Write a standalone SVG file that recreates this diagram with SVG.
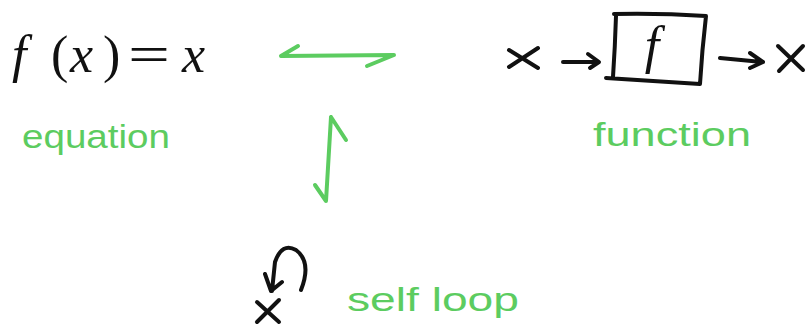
<svg xmlns="http://www.w3.org/2000/svg" width="811" height="329" viewBox="0 0 811 329">
<style>
.g{fill:none;stroke:#5ccc60;stroke-width:4;stroke-linecap:round;stroke-linejoin:round}
.k{fill:none;stroke:#111;stroke-width:4;stroke-linecap:round;stroke-linejoin:round}
.hand{font-family:"Liberation Sans",Arial,sans-serif;fill:#5ccc60;font-size:33px}
.math{font-family:"Liberation Serif","Times New Roman",serif;fill:#111;font-size:52px}
</style>
<rect width="811" height="329" fill="#fff"/>
<g id="equation">
<text class="math" x="12" y="72" font-style="italic">f</text>
<text class="math" x="51" y="72">(</text>
<text class="math" x="70" y="72" font-style="italic">x</text>
<text class="math" x="103" y="72">)</text>
<text class="math" x="128" y="72" textLength="42" lengthAdjust="spacingAndGlyphs">=</text>
<text class="math" x="182" y="72" font-style="italic">x</text>
<text class="hand" x="22" y="148" textLength="148" lengthAdjust="spacingAndGlyphs">equation</text>
</g>
<g id="function">
<path class="k" d="M509 50 L538 68 M538 48 L509 67"/>
<path class="k" d="M563 62 L598 62 M588 54 L599 62 L590 68"/>
<path class="k" d="M614 14 Q660 13 706 16 Q702 50 700 84 Q650 81 606 78 M616 16 Q615 48 613 77"/>
<text x="652" y="63" text-anchor="middle" font-family="Liberation Serif,serif" font-style="italic" font-size="52" fill="#111">f</text>
<path class="k" d="M720 58 L762 62 M750 53 L763 62 L750 68"/>
<path class="k" d="M778 46 L803 70 M803 46 L779 71"/>
<text class="hand" x="593" y="146" textLength="158" lengthAdjust="spacingAndGlyphs">function</text>
</g>
<g id="selfloop">
<path class="k" d="M257 302 L279 322 M279 300 L257 322"/>
<text class="hand" x="347" y="311" font-size="35" textLength="172" lengthAdjust="spacingAndGlyphs">self loop</text>
</g>
<g id="connectors">
<path class="g" d="M281 56 L394 55 L367 66 M281 56 L298 46"/>
<path class="g" d="M331 117 L326 201 L315 185 M331 117 L346 140"/>
<path class="k" d="M301 290 Q312 262 296 250 Q282 242 275 262 L272 291 M265 274 L271 291 L282 282"/>
</g>
</svg>
